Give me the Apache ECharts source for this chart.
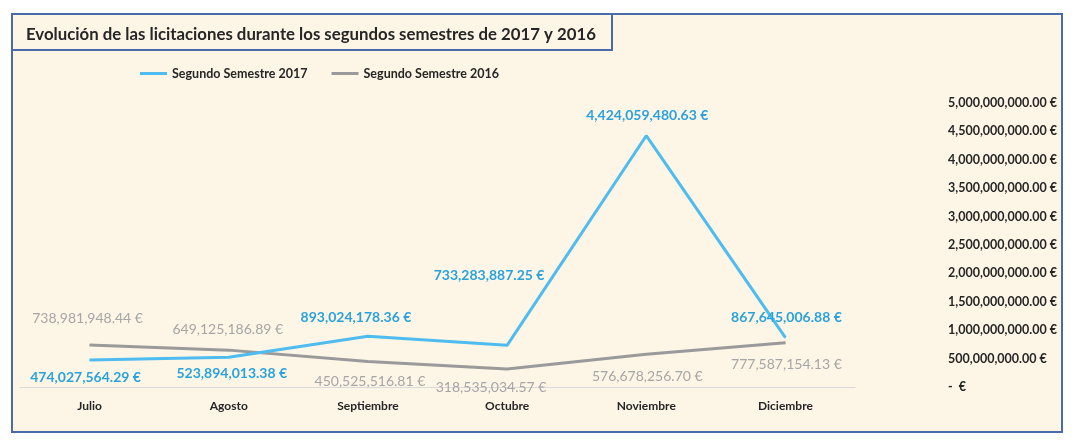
<!DOCTYPE html>
<html>
<head>
<meta charset="utf-8">
<script src="https://cdn.jsdelivr.net/npm/echarts@6/dist/echarts.min.js"></script>
<style>
html,body{margin:0;padding:0;background:#ffffff;}
#chart{width:1077px;height:443px;}
</style>
</head>
<body>
<div id="chart"></div>
<script>
const categories = ['Julio', 'Agosto', 'Septiembre', 'Octubre', 'Noviembre', 'Diciembre'];
const semestre2017 = [474027564.29, 523894013.38, 893024178.36, 733283887.25, 4424059480.63, 867645006.88];
const semestre2016 = [738981948.44, 649125186.89, 450525516.81, 318535034.57, 576678256.70, 777587154.13];
const seriesNames = ['Segundo Semestre 2017', 'Segundo Semestre 2016'];
const titleText = 'Evolución de las licitaciones durante los segundos semestres de 2017 y 2016';

// label offsets (style only)
const off2017 = [[-4, 17], [3, 16], [-12, -19], [-18, -70], [1, -20], [1, -20]];
const off2016 = [[-2, -27], [-1, -21], [2, 20], [-16, 19], [1, 22], [1, 22]];

const FONT = 'Lato, "Open Sans", sans-serif';

function fmtEuro(v) {
  if (v === 0) return '-  €';
  return v.toLocaleString('en-US', {minimumFractionDigits: 2, maximumFractionDigits: 2}) + ' €';
}

function buildData(vals, offs) {
  return vals.map((v, i) => ({ value: v, label: { offset: offs[i] } }));
}

const chart = echarts.init(document.getElementById('chart'));
chart.setOption({
  backgroundColor: '#ffffff',
  animation: false,
  graphic: [
    { type: 'rect', z: -10, shape: { x: 12, y: 14, width: 1050, height: 418 },
      style: { fill: '#fdf5e6', stroke: '#4a6aa8', lineWidth: 2 } },
    { type: 'rect', z: -9, shape: { x: 12, y: 14, width: 600, height: 36 },
      style: { fill: '#fdf5e6', stroke: '#4a6aa8', lineWidth: 2 } }
  ],
  title: {
    text: titleText,
    left: 21, top: 21,
    textStyle: { fontFamily: FONT, fontWeight: 'bold', fontSize: 16.8, color: '#262626' }
  },
  legend: {
    data: seriesNames,
    left: 135, top: 62,
    itemGap: 24,
    itemWidth: 27, itemHeight: 3,
    icon: 'rect',
    textStyle: { fontFamily: FONT, fontWeight: 'bold', fontSize: 12.5, color: '#262626' }
  },
  grid: { left: 20, right: 222, top: 103, bottom: 56, containLabel: false },
  xAxis: {
    type: 'category',
    data: categories,
    boundaryGap: true,
    axisLine: { lineStyle: { color: '#d9d9d9', width: 1 } },
    axisTick: { show: false },
    axisLabel: { margin: 13, fontFamily: FONT, fontWeight: 'bold', fontSize: 12, color: '#262626' }
  },
  yAxis: {
    type: 'value',
    position: 'right',
    min: 0, max: 5000000000, interval: 500000000,
    splitLine: { show: false },
    axisLine: { show: false },
    axisTick: { show: false },
    axisLabel: {
      margin: 93, align: 'left',
      fontFamily: FONT, fontWeight: 'bold', fontSize: 12.5, color: '#262626',
      formatter: fmtEuro
    }
  },
  series: [
    {
      name: seriesNames[0], type: 'line',
      data: buildData(semestre2017, off2017),
      color: '#4fbcf0',
      lineStyle: { width: 3, color: '#4fbcf0' },
      symbol: 'circle', symbolSize: 1,
      label: {
        show: true, position: 'inside',
        fontFamily: FONT, fontWeight: 'bold', fontSize: 14, color: '#2aa3dc',
        formatter: p => fmtEuro(p.value)
      },
      z: 3
    },
    {
      name: seriesNames[1], type: 'line',
      data: buildData(semestre2016, off2016),
      color: '#9a9a9a',
      lineStyle: { width: 3, color: '#9a9a9a' },
      symbol: 'circle', symbolSize: 1,
      label: {
        show: true, position: 'inside',
        fontFamily: FONT, fontSize: 14, color: '#a6a6a6',
        formatter: p => fmtEuro(p.value)
      },
      z: 2
    }
  ]
});
</script>
</body>
</html>
